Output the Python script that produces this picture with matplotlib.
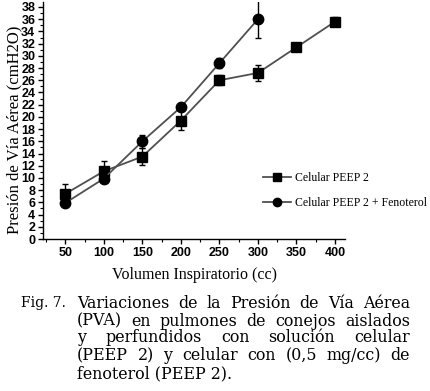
import matplotlib
matplotlib.use("Agg")
import matplotlib.pyplot as plt
from matplotlib import font_manager as fm
from matplotlib.ticker import MultipleLocator

# ---- data ----
volumes_a = [50, 100, 150, 200, 250, 300, 350, 400]
celular = [7.4, 11.1, 13.5, 19.4, 26.0, 27.2, 31.4, 35.6]
celular_err = [1.6, 1.6, 1.4, 1.6, 0.8, 1.3, 0.5, 0.7]

volumes_b = [50, 100, 150, 200, 250, 300]
fenoterol = [5.9, 9.9, 16.0, 21.6, 28.8, 36.0]
fenoterol_err = [0.3, 0.3, 1.1, 0.5, 0.8, 3.1]

xticks = [50, 100, 150, 200, 250, 300, 350, 400]
yticks = list(range(0, 39, 2))

label_a = "Celular PEEP 2"
label_b = "Celular PEEP 2 + Fenoterol"
xlabel = "Volumen Inspiratorio (cc)"
ylabel = "Presión de Vía Aérea (cmH2O)"
caption_head = "Fig. 7."
caption_lines = [
    "Variaciones de la Presión de Vía Aérea",
    "(PVA) en pulmones de conejos aislados",
    "y perfundidos con solución celular",
    "(PEEP 2) y celular con (0,5 mg/cc) de",
    "fenoterol (PEEP 2).",
]

names = {f.name for f in fm.fontManager.ttflist}
tick_family = "Liberation Sans Narrow" if "Liberation Sans Narrow" in names else "Liberation Sans"
serif = "Liberation Serif"
cap_font = "DejaVu Serif"

W, H = 430, 391
fig = plt.figure(figsize=(W / 100, H / 100), dpi=100)
ax = fig.add_axes([43 / W, 1 - 239 / H, (345 - 43) / W, (239 - 1.5) / H])

line_col = "#505050"
ax.errorbar(volumes_a, celular, yerr=celular_err, fmt="none", ecolor="black",
            elinewidth=1.0, capsize=2.2, capthick=1.0)
ax.errorbar(volumes_b, fenoterol, yerr=fenoterol_err, fmt="none", ecolor="black",
            elinewidth=1.0, capsize=2.2, capthick=1.0)
ax.plot(volumes_a, celular, color=line_col, lw=1.3, marker="s", ms=6.5,
        mfc="black", mec="black", label=label_a)
ax.plot(volumes_b, fenoterol, color=line_col, lw=1.3, marker="o", ms=7.5,
        mfc="black", mec="black", label=label_b)

ax.set_xlim(21, 413)
ax.set_ylim(0, 38.9)
ax.set_xticks(xticks)
ax.set_yticks(yticks)
ax.xaxis.set_minor_locator(MultipleLocator(25))
ax.yaxis.set_minor_locator(MultipleLocator(1))
for s in ["top", "right"]:
    ax.spines[s].set_visible(False)
for s in ["left", "bottom"]:
    ax.spines[s].set_linewidth(1.0)
ax.tick_params(which="major", direction="out", length=3.5, width=1.0, pad=2)
ax.tick_params(which="minor", direction="out", length=2, width=0.8)
for lab in ax.get_xticklabels() + ax.get_yticklabels():
    lab.set_fontfamily(tick_family)
    lab.set_fontweight("bold")
    lab.set_fontsize(9)

ax.set_xlabel(xlabel, fontfamily=serif, fontsize=11.5, labelpad=6)
ax.set_ylabel(ylabel, fontfamily=serif, fontsize=12)
ax.yaxis.set_label_coords(-0.068, 0.46)

leg = ax.legend(loc="upper left", bbox_to_anchor=(258 / W, 1 - 167 / H),
                bbox_transform=fig.transFigure, frameon=False,
                prop={"family": serif, "size": 8.5}, handlelength=2.4,
                handletextpad=0.3, labelspacing=1.15, borderaxespad=0,
                markerscale=0.8)

# ---- caption (justified) ----
fig.canvas.draw()
renderer = fig.canvas.get_renderer()
x0, x1 = 77, 410
line_y = [303, 321, 338, 356, 374]


def fit_size(text, width_px):
    probe = fig.text(0, 0, text, fontfamily=cap_font, fontsize=10)
    nat = probe.get_window_extent(renderer).width
    probe.remove()
    return 10 * width_px / nat


cap_size = fit_size(caption_lines[0], x1 - x0) * 0.94
head_size = min(cap_size, fit_size(caption_head, 45))


def justify(line, xa, xb, yf):
    words = line.split(" ")
    texts = [fig.text(0, yf, w, fontfamily=cap_font, fontsize=cap_size,
                      va="center", ha="left") for w in words]
    widths = [t.get_window_extent(renderer).width for t in texts]
    gap = (xb - xa - sum(widths)) / max(len(words) - 1, 1)
    x = xa
    for t, wdt in zip(texts, widths):
        t.set_x(x / W)
        x += wdt + gap


fig.text(21 / W, 1 - line_y[0] / H, caption_head, fontfamily=cap_font,
         fontsize=head_size, va="center", ha="left")

for i, line in enumerate(caption_lines):
    yf = 1 - line_y[i] / H
    if i == len(caption_lines) - 1:
        fig.text(x0 / W, yf, line, fontfamily=cap_font, fontsize=cap_size,
                 va="center", ha="left")
        continue
    justify(line, x0, x1, yf)

fig.savefig("out.png", dpi=100)
